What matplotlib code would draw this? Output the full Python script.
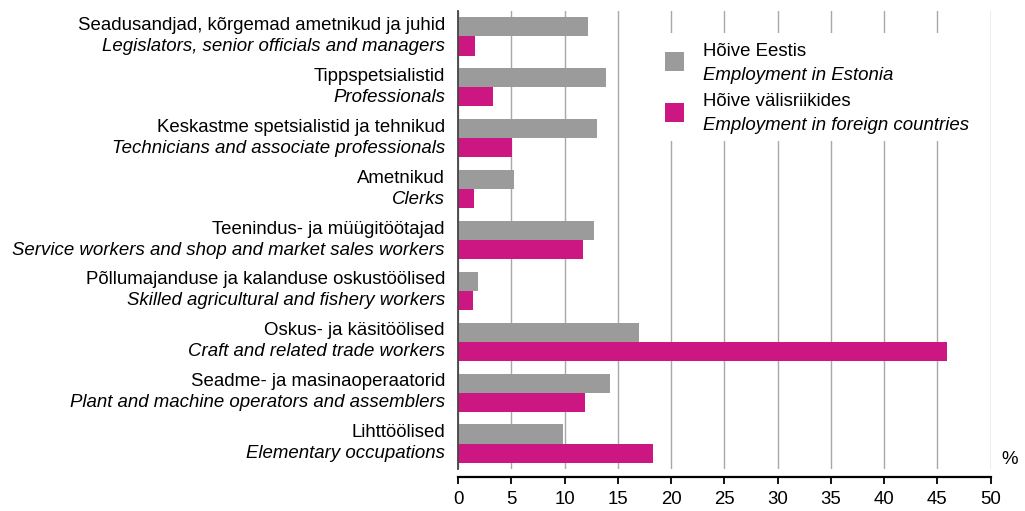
import matplotlib
matplotlib.use("Agg")
import matplotlib.pyplot as plt
import matplotlib.transforms as mtransforms
import numpy as np

plt.rcParams['font.family'] = ['Liberation Sans', 'DejaVu Sans']

# occupations, Estonian and English names
names_et = [
    "Seadusandjad, kõrgemad ametnikud ja juhid",
    "Tippspetsialistid",
    "Keskastme spetsialistid ja tehnikud",
    "Ametnikud",
    "Teenindus- ja müügitöötajad",
    "Põllumajanduse ja kalanduse oskustöölised",
    "Oskus- ja käsitöölised",
    "Seadme- ja masinaoperaatorid",
    "Lihttöölised",
]
names_en = [
    "Legislators, senior officials and managers",
    "Professionals",
    "Technicians and associate professionals",
    "Clerks",
    "Service workers and shop and market sales workers",
    "Skilled agricultural and fishery workers",
    "Craft and related trade workers",
    "Plant and machine operators and assemblers",
    "Elementary occupations",
]
estonia = [12.2, 13.9, 13.0, 5.3, 12.8, 1.9, 17.0, 14.3, 9.9]
abroad = [1.6, 3.3, 5.1, 1.5, 11.7, 1.4, 45.9, 11.9, 18.3]

series_et = ["Hõive Eestis", "Hõive välisriikides"]
series_en = ["Employment in Estonia", "Employment in foreign countries"]
GRAY = "#9b9b9b"
MAGENTA = "#cc1682"
FS = 13.4

fig = plt.figure(figsize=(10.25, 5.11), dpi=100)
ax = fig.add_axes([458 / 1025, 1 - 469 / 511, (990.7 - 458) / 1025, (469 - 11) / 511])

y = np.arange(len(names_et))
h = 0.375
ax.barh(y - h / 2, estonia, height=h, color=GRAY, zorder=3)
ax.barh(y + h / 2, abroad, height=h, color=MAGENTA, zorder=3)

ax.set_xlim(0, 50)
ax.set_ylim(8.5, -0.5)
ax.set_xticks(np.arange(0, 51, 5))
ax.set_yticks([])
ax.grid(axis='x', color='#a8a8a8', linewidth=1.0, zorder=0)

for s in ['top', 'right']:
    ax.spines[s].set_visible(False)
ax.spines['left'].set_color('#444444')
ax.spines['left'].set_linewidth(1.3)
ax.spines['left'].set_zorder(4)
ax.spines['bottom'].set_position(('outward', 5.5))
ax.spines['bottom'].set_linewidth(1.6)
ax.tick_params(axis='x', length=5, width=1.3, labelsize=FS, pad=5)

# two-line category labels
tr = ax.get_yaxis_transform()
up = mtransforms.offset_copy(tr, fig=fig, x=-13, y=11, units='dots')
dn = mtransforms.offset_copy(tr, fig=fig, x=-13, y=-10, units='dots')
for i in range(len(names_et)):
    ax.text(0, i, names_et[i], transform=up, ha='right', va='center', fontsize=FS)
    ax.text(0, i, names_en[i], transform=dn, ha='right', va='center', fontsize=FS, style='italic')

fig.text(1001 / 1025, 1 - 460 / 511, "%", ha='left', va='center', fontsize=FS)

# legend drawn by hand: white box over the grid
ax.add_patch(plt.Rectangle((652 / 1025, 1 - 141 / 511), 333 / 1025, 108 / 511,
                           transform=fig.transFigure, facecolor='white', edgecolor='none', zorder=5))
for k, c in enumerate([GRAY, MAGENTA]):
    top = 52 + k * 51
    ax.add_patch(plt.Rectangle((665 / 1025, 1 - (top + 19) / 511), 19 / 1025, 19 / 511,
                               transform=fig.transFigure, facecolor=c, edgecolor='none', zorder=6))
    fig.text(703 / 1025, 1 - (top - 1) / 511, series_et[k], ha='left', va='center', fontsize=FS, zorder=7)
    fig.text(703 / 1025, 1 - (top + 23) / 511, series_en[k], ha='left', va='center', fontsize=FS,
             style='italic', zorder=7)

fig.savefig("out.png", dpi=100)
